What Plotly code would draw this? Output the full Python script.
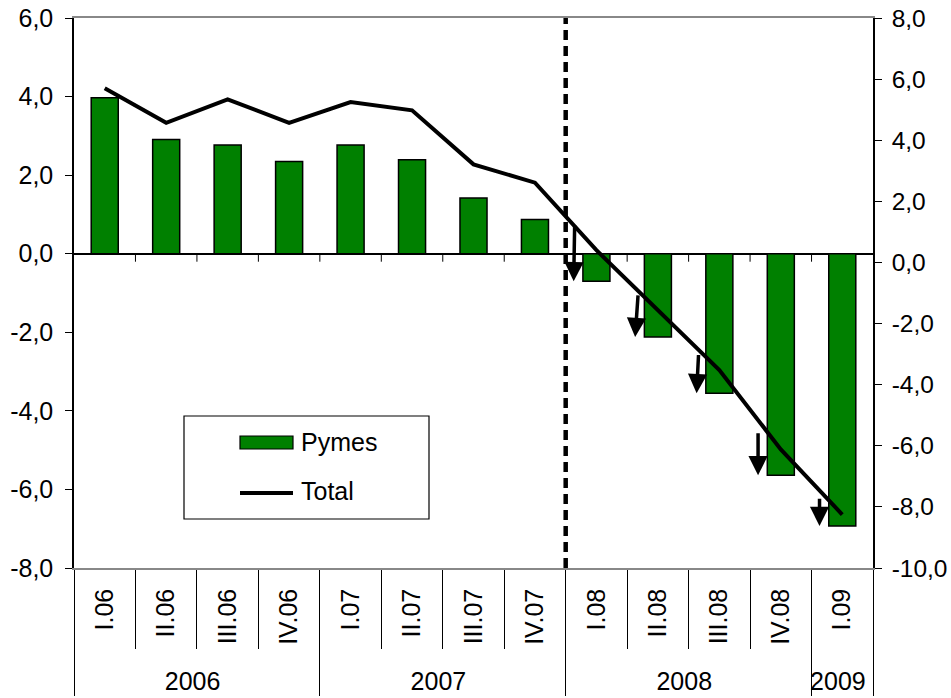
import plotly.graph_objects as go

# données
years = ["2006"] * 4 + ["2007"] * 4 + ["2008"] * 4 + ["2009"]
quarters = ["I.06", "II.06", "III.06", "IV.06",
            "I.07", "II.07", "III.07", "IV.07",
            "I.08", "II.08", "III.08", "IV.08", "I.09"]
pymes = [3.97, 2.91, 2.77, 2.35, 2.77, 2.39, 1.42, 0.87,
         -0.70, -2.12, -3.55, -5.64, -6.93]
total = [5.70, 4.57, 5.34, 4.57, 5.25, 4.98, 3.21, 2.61,
         0.40, -1.58, -3.52, -6.12, -8.25]
left_ticks = [-8, -6, -4, -2, 0, 2, 4, 6]
right_ticks = [-10, -8, -6, -4, -2, 0, 2, 4, 6, 8]
# départ des flèches (axe gauche), une par trimestre depuis I.08
arrow_from = [0.76, -1.02, -2.54, -4.53, -6.20]
arrow_dx = [1, 3, 2, 0, 0]

FONT = "Liberation Sans, Arial, sans-serif"
n = len(quarters)
first_arrow = quarters.index("I.08")


def fmt(v):
    # virgule décimale, tiret simple pour le signe moins
    return f"{v:.1f}".replace(".", ",")


# espace insécable en tête : les années descendent un peu sous les trimestres
q_labels = ["\u00a0" + q for q in quarters]

fig = go.Figure()
fig.add_trace(go.Bar(
    x=[years, q_labels], y=pymes, name="Pymes",
    marker=dict(color="#008000", line=dict(color="black", width=1.5)),
))
fig.add_trace(go.Scatter(
    x=[years, q_labels], y=total, name="Total", yaxis="y2",
    mode="lines", line=dict(color="black", width=4),
))

shapes = []
# petites graduations sur l'axe à zéro
for b in range(1, n):
    shapes.append(dict(type="line", xref="paper", yref="y", ysizemode="pixel",
                       yanchor=0, x0=b / n, x1=b / n, y0=0, y1=-8,
                       line=dict(color="black", width=1)))
# séparation 2007 / 2008
shapes.append(dict(type="line", xref="paper", yref="paper",
                   x0=first_arrow / n, x1=first_arrow / n, y0=0, y1=1,
                   line=dict(color="black", width=4.5, dash="10px,6px")))

# légende dessinée à la main (cadre + symboles), positions en pixels de la zone de tracé
px0, pw, py0, ph = 74, 799, 18, 550


def xp(px):
    return (px - px0) / pw


def yp(py):
    return (py0 + ph - py) / ph


shapes.append(dict(type="rect", xref="paper", yref="paper",
                   x0=xp(184), x1=xp(429), y0=yp(519), y1=yp(416),
                   line=dict(color="black", width=1.2), fillcolor="white", layer="above"))
shapes.append(dict(type="rect", xref="paper", yref="paper",
                   x0=xp(240), x1=xp(293), y0=yp(449), y1=yp(436),
                   line=dict(color="black", width=1.2), fillcolor="#008000", layer="above"))
shapes.append(dict(type="line", xref="paper", yref="paper",
                   x0=xp(240), x1=xp(293), y0=yp(493), y1=yp(493),
                   line=dict(color="black", width=4), layer="above"))

annotations = [
    dict(text="Pymes", xref="paper", yref="paper", x=xp(299), y=yp(442),
         xanchor="left", yanchor="middle", showarrow=False,
         font=dict(family=FONT, size=25, color="black")),
    dict(text="Total", xref="paper", yref="paper", x=xp(299), y=yp(491),
         xanchor="left", yanchor="middle", showarrow=False,
         font=dict(family=FONT, size=25, color="black")),
]
for k, (start, dx) in enumerate(zip(arrow_from, arrow_dx)):
    i = first_arrow + k
    annotations.append(dict(
        xref="paper", x=(i + 0.13) / n, yref="y", y=pymes[i],
        axref="pixel", ax=dx, ayref="y", ay=start, text="",
        showarrow=True, arrowhead=2, arrowsize=1.1, arrowwidth=3.5,
        arrowcolor="black",
    ))

fig.update_layout(
    template="none",
    width=951, height=698,
    margin=dict(l=74, r=78, t=18, b=130),
    paper_bgcolor="white", plot_bgcolor="white",
    font=dict(family=FONT, size=25, color="black"),
    bargap=0.56,
    showlegend=False,
    shapes=shapes,
    annotations=annotations,
    xaxis=dict(
        type="multicategory", automargin=False,
        showline=True, linecolor="#888888", linewidth=1.5, mirror=True,
        showgrid=False, zeroline=False,
        ticks="outside", tickson="boundaries", ticklen=79,
        tickcolor="black", tickwidth=1,
        tickangle=-90, ticklabelstandoff=9,
        showdividers=True, dividercolor="black", dividerwidth=1,
        tickfont=dict(family=FONT, size=25),
    ),
    yaxis=dict(
        range=[-8, 6], tickmode="array", tickvals=left_ticks,
        ticktext=[fmt(v) for v in left_ticks], automargin=False,
        showline=True, linecolor="black", linewidth=1.5,
        ticks="outside", ticklen=7, tickcolor="black", ticklabelstandoff=7,
        ticklabeloverflow="allow",
        showgrid=False, zeroline=True, zerolinecolor="black", zerolinewidth=1.5,
    ),
    yaxis2=dict(
        range=[-10, 8], tickmode="array", tickvals=right_ticks,
        ticktext=[fmt(v) for v in right_ticks], automargin=False,
        overlaying="y", side="right",
        showline=True, linecolor="black", linewidth=1.5,
        ticks="outside", ticklen=7, tickcolor="black", ticklabelstandoff=5,
        ticklabeloverflow="allow", tickfont=dict(family=FONT, size=24.5),
        showgrid=False, zeroline=False,
    ),
)

# pas de marge autour du graphique dans la page, pas de barre d'outils
fig.write_html("out.html", config={"displayModeBar": False},
               post_script="document.body.style.margin = '0';")
